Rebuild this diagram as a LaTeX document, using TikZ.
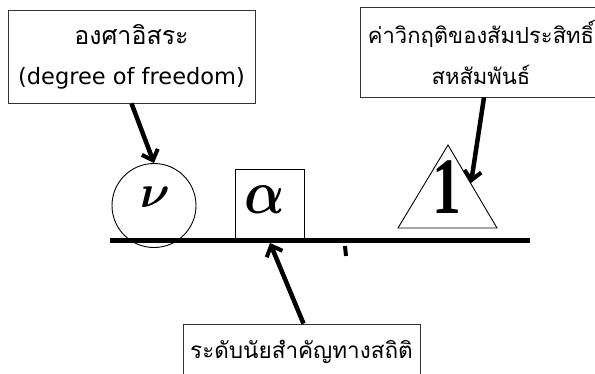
\documentclass[tikz,border=0pt]{standalone}
\usepackage{fontspec}
\usepackage{bm}
\newfontfamily\thai[Script=Thai]{Loma}
\newfontfamily\latn{DejaVu Sans}
\newfontfamily\heavyserif{Liberation Serif}
\usetikzlibrary{arrows.meta}
\tikzset{
  labelbox/.style={draw=black!80, line width=0.8pt, fill=white, align=center, inner sep=0pt},
  shapebox/.style={draw, line width=0.9pt, inner sep=0pt},
  arr/.style={line width=4.5pt, -{Straight Barb[length=9pt,width=17pt,line width=4pt]}},
  baseline/.style={line width=5pt}
}
\begin{document}
\begin{tikzpicture}[x=1pt,y=-1pt]
\useasboundingbox (0,0) rectangle (595,373);
% thick base line
\coordinate (L1) at (110,240);
\coordinate (L2) at (530,240);
\draw[baseline] (L1) -- (L2);
\coordinate (m1) at (345,246);
\coordinate (m2) at (346,256);
\draw[line width=4pt] (m1) -- (m2);
% circle with nu
\node[shapebox, circle, minimum size=84pt] (circ) at (154,205.5) {};
\node[scale=4.6] (nu) at (155,197) {$\bm{\nu}$};
% square with alpha
\node[shapebox, rectangle, minimum width=69pt, minimum height=69pt] (sq) at (269.5,203.5) {};
\node[xscale=5.3, yscale=6.2] (al) at (265,200) {$\bm{\alpha}$};
% triangle
\coordinate (tA) at (448,145);
\coordinate (tB) at (398,228);
\coordinate (tC) at (497,228);
\draw[line width=0.9pt, fill=white] (tA) -- (tB) -- (tC) -- cycle;
\node[xscale=0.72] (one) at (447,187) {\heavyserif\fontsize{80}{80}\selectfont\bfseries 1};
% label boxes
\node[labelbox, minimum width=247pt, minimum height=93pt,
      font=\thai\fontsize{25}{40}\selectfont] (box1) at (131.5,56.5)
  {องศาอิสระ\\{\latn\fontsize{22.5}{40}\selectfont (degree of freedom)}};
\node[labelbox, minimum width=242pt, minimum height=90pt,
      font=\thai\fontsize{22}{41}\selectfont] (box2) at (481,52)
  {ค่าวิกฤติของสัมประสิทธิ์\\สหสัมพันธ์};
\node[labelbox, minimum width=237pt, minimum height=56pt,
      font=\thai\fontsize{22.5}{24}\selectfont] (box3) at (301.5,352)
  {ระดับนัยสำคัญทางสถิติ};
% arrows
\coordinate (a2s) at ([xshift=3pt]box2.south);
\coordinate (a2e) at (471,183);
\coordinate (a3s) at ([xshift=2pt]box3.north);
\coordinate (a3e) at (270,243);
\draw[arr] (box1.south) -- (circ.north);
\draw[arr] (a2s) -- (a2e);
\draw[arr] (a3s) -- (a3e);
\end{tikzpicture}
\end{document}
